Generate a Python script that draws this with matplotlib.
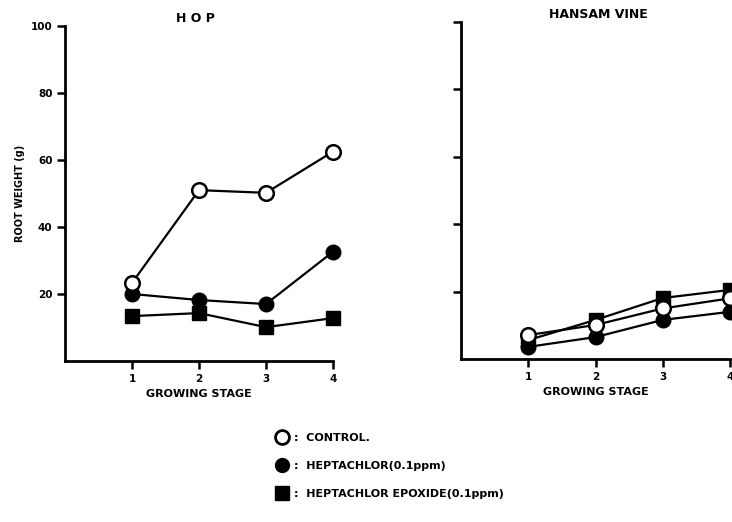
import matplotlib
matplotlib.use("Agg")
import matplotlib.pyplot as plt
from matplotlib.lines import Line2D

stages = [1, 2, 3, 4]
y_ticks = [20, 40, 60, 80, 100]

hop_control = [23.3, 51.0, 50.2, 62.5]
hop_heptachlor = [20.0, 18.2, 17.0, 32.6]
hop_epoxide = [13.4, 14.3, 10.1, 12.8]

vine_control = [7.1, 10.1, 15.0, 18.0]
vine_heptachlor = [3.6, 6.5, 11.6, 14.0]
vine_epoxide = [5.6, 11.6, 18.1, 20.5]

legend_labels = [":  CONTROL.", ":  HEPTACHLOR(0.1ppm)", ":  HEPTACHLOR EPOXIDE(0.1ppm)"]

plt.rcParams['font.family'] = ['DejaVu Sans']
plt.rcParams['font.weight'] = 'bold'

W, H = 732, 522
fig = plt.figure(figsize=(W / 100, H / 100), dpi=100)

ax1 = fig.add_axes([65 / W, (H - 361) / H, 268 / W, 335 / H])
ax2 = fig.add_axes([461 / W, (H - 359) / H, 269 / W, 337 / H])

lw = 1.6
ms_c = 10.5
ms_s = 9.5

def draw(ax, control, hept, epox):
    ax.plot(stages, epox, color='black', lw=lw, marker='s', ms=ms_s,
            mfc='black', mec='black', clip_on=False, zorder=3)
    ax.plot(stages, hept, color='black', lw=lw, marker='o', ms=ms_c,
            mfc='black', mec='black', clip_on=False, zorder=4)
    ax.plot(stages, control, color='black', lw=lw, marker='o', ms=ms_c,
            mfc='white', mec='black', mew=1.8, clip_on=False, zorder=5)
    ax.set_xlim(0, 4)
    ax.set_ylim(0, 100)
    ax.set_xticks(stages)
    ax.set_yticks(y_ticks)
    for s in ['top', 'right']:
        ax.spines[s].set_visible(False)
    for s in ['left', 'bottom']:
        ax.spines[s].set_linewidth(2.0)
    ax.tick_params(axis='both', direction='out', width=1.8, length=6,
                   labelsize=7.5, pad=3)
    ax.set_xlabel("GROWING STAGE", fontsize=8, fontweight='bold', labelpad=4)

draw(ax1, hop_control, hop_heptachlor, hop_epoxide)
draw(ax2, vine_control, vine_heptachlor, vine_epoxide)

ax1.set_ylabel("ROOT WEIGHT (g)", fontsize=7, fontweight='bold', labelpad=4)
ax2.set_yticklabels([])

fig.text(195 / W, 1 - 18 / H, "H O P", ha='center', va='center',
         fontsize=9, fontweight='bold')
fig.text(598 / W, 1 - 15 / H, "HANSAM VINE", ha='center', va='center',
         fontsize=9, fontweight='bold')

handles = [
    Line2D([], [], ls='none', marker='o', ms=10, mfc='white', mec='black', mew=2),
    Line2D([], [], ls='none', marker='o', ms=10, mfc='black', mec='black'),
    Line2D([], [], ls='none', marker='s', ms=10, mfc='black', mec='black'),
]
fig.legend(handles, legend_labels, loc='upper left',
           bbox_to_anchor=(266 / W, 1 - 423 / H), frameon=False,
           handlelength=1.0, handletextpad=0.6, labelspacing=1.6,
           prop={'size': 8, 'weight': 'bold'})

fig.savefig("out.png", dpi=100)
